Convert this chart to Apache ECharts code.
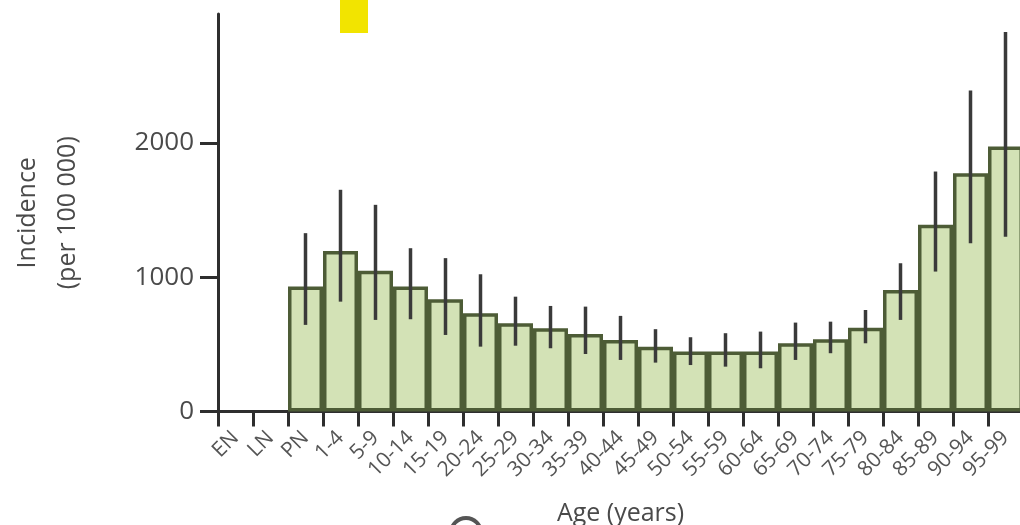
<!DOCTYPE html>
<html>
<head>
<meta charset="utf-8">
<script src="https://cdn.jsdelivr.net/npm/echarts@6/dist/echarts.min.js"></script>
<style>
  html, body { margin: 0; padding: 0; background: #ffffff; }
  #chart { width: 1020px; height: 525px; }
</style>
</head>
<body>
<div id="chart"></div>
<script>
// Age groups (EN/LN/PN = early, late and post-neonatal)
const ageGroups = ['EN', 'LN', 'PN', '1-4', '5-9', '10-14', '15-19', '20-24', '25-29', '30-34',
  '35-39', '40-44', '45-49', '50-54', '55-59', '60-64', '65-69', '70-74', '75-79', '80-84',
  '85-89', '90-94', '95-99'];

// Incidence per 100 000 and its uncertainty interval
const incidence = [null, null, 930, 1196, 1049, 930, 836, 732, 657, 620,
  577, 533, 483, 446, 446, 446, 508, 538, 624, 905,
  1390, 1775, 1973];
const ciLow = [null, null, 645, 818, 682, 687, 570, 483, 490, 471,
  428, 384, 364, 346, 334, 322, 384, 434, 508, 682,
  1042, 1253, 1302];
const ciHigh = [null, null, 1328, 1651, 1539, 1216, 1142, 1022, 855, 786,
  781, 712, 613, 553, 583, 595, 662, 669, 756, 1104,
  1787, 2390, 2826];

const yTicks = [0, 1000, 2000];

const errorData = ageGroups.map((g, i) => [i, ciLow[i], ciHigh[i]]);

const chart = echarts.init(document.getElementById('chart'), null, { renderer: 'canvas' });

const labelFont = '"Open Sans", "DejaVu Sans", sans-serif';

chart.setOption({
  animation: false,
  backgroundColor: '#ffffff',
  grid: { left: 218, right: -3, top: 14, bottom: 113.5, containLabel: false, outerBoundsMode: 'none' },
  xAxis: {
    type: 'category',
    data: ageGroups,
    boundaryGap: true,
    name: 'Age (years)',
    nameLocation: 'middle',
    nameGap: 90,
    nameTextStyle: { color: '#4a4a4a', fontSize: 25, fontFamily: labelFont },
    axisLine: { lineStyle: { color: '#2e2e2e', width: 3 } },
    axisTick: { show: true, interval: 0, alignWithLabel: false, length: 15, lineStyle: { color: '#2e2e2e', width: 3 } },
    axisLabel: {
      interval: 0, rotate: 45, margin: 23,
      color: '#555555', fontSize: 21, fontFamily: labelFont
    },
    splitLine: { show: false }
  },
  yAxis: {
    type: 'value',
    min: 0,
    max: 2960,
    name: 'Incidence\n(per 100 000)',
    nameLocation: 'middle',
    nameRotate: 90,
    nameGap: 130,
    nameTextStyle: { color: '#4a4a4a', fontSize: 25, lineHeight: 40, fontFamily: labelFont, align: 'center' },
    axisLine: { show: true, lineStyle: { color: '#2e2e2e', width: 3 } },
    axisTick: { show: true, length: 18, customValues: yTicks, lineStyle: { color: '#2e2e2e', width: 3 } },
    axisLabel: {
      customValues: yTicks, margin: 24,
      formatter: function (v) { return String(v); },
      color: '#4a4a4a', fontSize: 26, fontFamily: labelFont
    },
    splitLine: { show: false }
  },
  series: [
    {
      type: 'bar',
      data: incidence,
      barCategoryGap: '0%',
      itemStyle: { color: '#d3e2b6', borderColor: '#4d5c36', borderWidth: 3.5 },
      z: 2
    },
    {
      type: 'custom',
      data: errorData,
      z: 3,
      renderItem: function (params, api) {
        if (api.value(1) == null || isNaN(api.value(1))) return null;
        const lo = api.coord([api.value(0), api.value(1)]);
        const hi = api.coord([api.value(0), api.value(2)]);
        return {
          type: 'line',
          shape: { x1: lo[0], y1: lo[1], x2: hi[0], y2: hi[1] },
          style: { stroke: '#3a3a3a', lineWidth: 3.5 }
        };
      }
    }
  ],
  graphic: [
    // yellow highlight block at the top
    { type: 'rect', left: 340, top: 0, shape: { width: 28, height: 33 }, style: { fill: '#f2e400' } },
    // panel marker partly visible at the bottom
    { type: 'circle', shape: { cx: 466, cy: 533, r: 15 }, style: { fill: 'none', stroke: '#555555', lineWidth: 4 } }
  ]
});
</script>
</body>
</html>
